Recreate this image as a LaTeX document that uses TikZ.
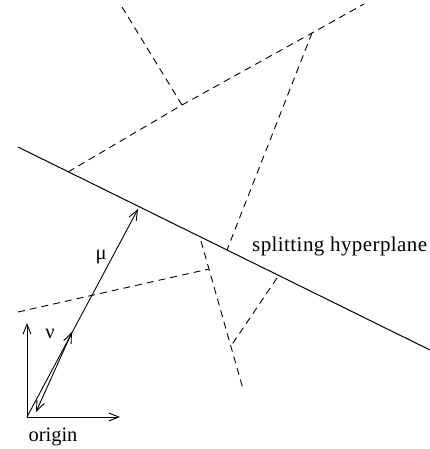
\documentclass[tikz,border=0pt]{standalone}
\usepackage{fontspec}
\setmainfont{Liberation Serif}
\newfontfamily\widefont[LetterSpace=2]{Liberation Serif}
\usepackage{tikz}
\usetikzlibrary{calc,arrows.meta}

\tikzset{
  edge/.style = {dash pattern = on 7pt off 5pt, line width = 0.9pt},
  vec/.style = {line width = 0.9pt, -{Straight Barb[length=10pt,width=8pt]}},
  lbl/.style = {inner sep = 0pt, font = \fontsize{20.5pt}{24pt}\selectfont}
}

\begin{document}
\begin{tikzpicture}[x = 1pt, y = -1pt]
            \useasboundingbox (0,0) rectangle (430,449);
            % splitting hyperplane
            \coordinate(hpl)at(18,147);
            \coordinate(hpr)at(430,350);
            \path[draw, line width = 1pt](hpl)to(hpr);
            \node[lbl, anchor = west, font = \widefont\fontsize{21pt}{24pt}\selectfont](hplabel)at(252,246){splitting hyperplane};
            % cell edges
            \coordinate(e1)at(68,172);
            \coordinate(j1)at(182,105);
            \coordinate(j2)at(312,33);
            \coordinate(e2)at(364,4);
            \coordinate(e3)at(122,7);
            \coordinate(e4)at(227,250);
            \path[draw, edge](e1)--(j1)--(j2)--(e2);
            \path[draw, edge](e3)--(j1);
            \path[draw, edge](j2)--(e4);
            % cell edges below
            \coordinate(e5)at(18,312);
            \coordinate(j3)at(209,269);
            \coordinate(e6)at(201,241);
            \coordinate(e7)at(243,389);
            \coordinate(j4)at(231,346);
            \coordinate(e8)at(277,278);
            \path[draw, edge](e5)--(j3);
            \path[draw, edge](e6)--(e7);
            \path[draw, edge](e8)--(j4);
            % origin and axes
            \coordinate(o)at(27,417);
            \coordinate(ox)at(120,417);
            \coordinate(oy)at(27,323);
            \node[lbl](olabel)at(53,437){origin};
            \path[draw, vec](o)--(ox);
            \path[draw, vec](o)--(oy);
            % mu
            \coordinate(mu)at(138,209);
            \path[draw, vec](o)--(mu);
            \node[lbl](mulabel)at(101,257){μ};
            % nu
            \coordinate(nub)at(36,412);
            \coordinate(nut)at(72,332);
            \path[draw, vec, {Straight Barb[length=10pt,width=8pt]}-{Straight Barb[length=10pt,width=8pt]}](nub)--(nut);
            \node[lbl](nulabel)at(50,334){ν};
        \end{tikzpicture}
\end{document}
